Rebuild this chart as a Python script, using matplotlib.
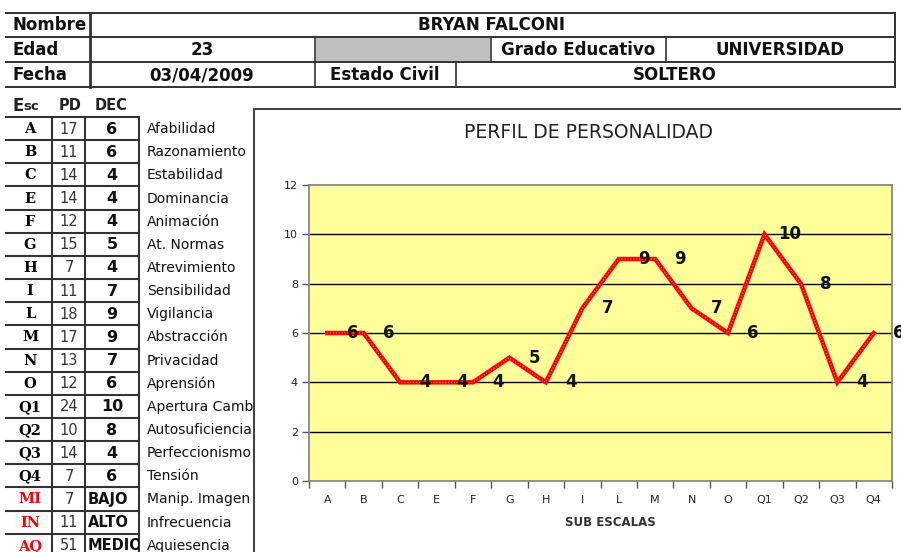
import numpy as np
import matplotlib.pyplot as plt
from matplotlib.patches import Rectangle

# profile data
cats = ['A', 'B', 'C', 'E', 'F', 'G', 'H', 'I', 'L', 'M', 'N', 'O', 'Q1', 'Q2', 'Q3', 'Q4']
dec = [6, 6, 4, 4, 4, 5, 4, 7, 9, 9, 7, 6, 10, 8, 4, 6]
pd_vals = [17, 11, 14, 14, 12, 15, 7, 11, 18, 17, 13, 12, 24, 10, 14, 7]
names = ['Afabilidad', 'Razonamiento', 'Estabilidad', 'Dominancia', 'Animación',
         'At. Normas', 'Atrevimiento', 'Sensibilidad', 'Vigilancia', 'Abstracción',
         'Privacidad', 'Aprensión', 'Apertura Cambio', 'Autosuficiencia',
         'Perfeccionismo', 'Tensión']
val_cats = ['MI', 'IN', 'AQ']
val_pd = [7, 11, 51]
val_dec = ['BAJO', 'ALTO', 'MEDIO']
val_names = ['Manip. Imagen', 'Infrecuencia', 'Aquiesencia']

W, H = 901, 552
fig = plt.figure(figsize=(W / 100, H / 100), dpi=100)
fig.patch.set_facecolor('white')

# background axes in pixel coordinates for the sheet-like tables
bg = fig.add_axes([0, 0, 1, 1])
bg.set_xlim(0, W)
bg.set_ylim(H, 0)
bg.axis('off')
bg.set_zorder(0)

lc = '#333333'
tc = '#111111'

# ---- header table ----
for y in [13, 37, 62, 87]:
    bg.plot([6, 895], [y, y], color=lc, lw=1.4)
bg.plot([90, 90], [13, 87], color=lc, lw=2)
bg.plot([895, 895], [13, 87], color=lc, lw=1.4)
for x in [315, 491, 666]:
    bg.plot([x, x], [37, 62], color=lc, lw=1.2)
for x in [315, 456]:
    bg.plot([x, x], [62, 87], color=lc, lw=1.2)
bg.add_patch(Rectangle((316, 38), 174, 23, facecolor='#c0c0c0', edgecolor='none'))

hdr = dict(fontsize=12, fontweight='bold', color=tc, va='center')
bg.text(12, 25.5, 'Nombre', ha='left', **hdr)
bg.text(492, 25.5, 'BRYAN FALCONI', ha='center', **hdr)
bg.text(12, 50, 'Edad', ha='left', **hdr)
bg.text(202, 50, '23', ha='center', **hdr)
bg.text(578, 50, 'Grado Educativo', ha='center', **hdr)
bg.text(780, 50, 'UNIVERSIDAD', ha='center', **hdr)
bg.text(12, 75, 'Fecha', ha='left', **hdr)
bg.text(202, 75, '03/04/2009', ha='center', **hdr)
bg.text(385, 75, 'Estado Civil', ha='center', **hdr)
bg.text(675, 75, 'SOLTERO', ha='center', **hdr)

# ---- scores table ----
bg.text(12, 106, 'E', fontsize=12, fontweight='bold', color='#222222', va='center', ha='left')
bg.text(23, 107, 'sc', fontsize=9.5, fontweight='bold', color='#222222', va='center', ha='left')
bg.text(70, 106, 'PD', fontsize=10.5, fontweight='bold', color='#222222', va='center', ha='center')
bg.text(111, 106, 'DEC', fontsize=10.5, fontweight='bold', color='#222222', va='center', ha='center')

row0, rh = 117, 23.15
nrows = len(cats) + len(val_cats)
for k in range(nrows + 1):
    y = row0 + k * rh
    bg.plot([6, 139], [y, y], color=lc, lw=1.5)
for x in [52, 85, 139]:
    bg.plot([x, x], [row0, H + 5], color=lc, lw=1.5)

clip_dec = Rectangle((85, 0), 54, H, transform=bg.transData)

all_cats = cats + val_cats
all_pd = pd_vals + val_pd
all_dec = [str(v) for v in dec] + val_dec
all_names = names + val_names
for k in range(nrows):
    yc = row0 + (k + 0.5) * rh
    ccol = '#ff0000' if all_cats[k] in val_cats else '#000000'
    bg.text(30, yc + 0.5, all_cats[k], fontsize=10.5, fontweight='bold', family='DejaVu Serif',
            color=ccol, ha='center', va='center')
    bg.text(69, yc + 0.5, str(all_pd[k]), fontsize=10.5, color='#333333', ha='center', va='center')
    if k < len(cats):
        bg.text(112, yc + 0.5, all_dec[k], fontsize=11.5, fontweight='bold', color=tc,
                ha='center', va='center')
    else:
        t = bg.text(88, yc + 0.5, all_dec[k], fontsize=10.5, fontweight='bold', color=tc,
                    ha='left', va='center', clip_on=True)
        t.set_clip_path(clip_dec)
    bg.text(147, yc + 0.5, all_names[k], fontsize=10, color=tc, ha='left', va='center')

# chart frame (white, hides overflowing names)
bg.add_patch(Rectangle((254, 109), 700, 500, facecolor='white', edgecolor='#444444',
                       lw=1.5, zorder=5))
bg.text(588, 132, 'PERFIL DE PERSONALIDAD', fontsize=13.5, color='#222222',
        ha='center', va='center', zorder=6)
bg.text(610, 523, 'SUB ESCALAS', fontsize=8.5, fontweight='bold', color='#333333',
        ha='center', va='center', zorder=6)

# ---- chart ----
x0, x1, y0, y1 = 309, 892, 185, 481
ax = fig.add_axes([x0 / W, 1 - y1 / H, (x1 - x0) / W, (y1 - y0) / H])
ax.set_zorder(2)
ax.set_facecolor('#ffff99')
xs = np.arange(len(cats))
ax.set_xlim(-0.5, len(cats) - 0.5)
ax.set_ylim(0, 12)
ax.set_yticks(range(0, 13, 2))
for g in range(2, 12, 2):
    ax.axhline(g, color='black', lw=1, zorder=1)
ax.plot(xs, dec, color='#ff0000', lw=3.2, zorder=3, solid_joinstyle='miter')
ax.plot(xs, dec, color='#ff9a9a', lw=0.7, ls=(0, (1, 2)), zorder=4)
for i, v in enumerate(dec):
    ax.text(i + 0.69, v, str(v), fontsize=12, fontweight='bold', color='#111111',
            ha='center', va='center', zorder=5, clip_on=False)

ax.set_xticks(np.arange(len(cats) + 1) - 0.5)
ax.set_xticklabels([])
ax.set_xticks(xs, minor=True)
ax.set_xticklabels(cats, minor=True, fontsize=8, color='#222222')
ax.tick_params(axis='x', which='minor', length=0, pad=10)
ax.tick_params(axis='x', which='major', length=5, width=1, color='#555555', direction='out')
ax.tick_params(axis='y', length=5, width=1, color='#555555', labelsize=8,
               labelcolor='#222222', pad=3)
for s in ax.spines.values():
    s.set_color('#808080')
    s.set_linewidth(1.2)

fig.savefig('out.png', dpi=100)
